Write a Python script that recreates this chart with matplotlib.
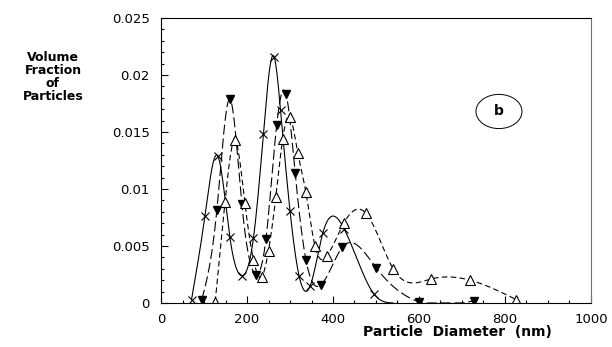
import numpy as np
import matplotlib
matplotlib.use("Agg")
import matplotlib.pyplot as plt
from matplotlib.patches import Ellipse
from matplotlib.ticker import MultipleLocator

# sample marked with x (solid line)
cross_d = [71, 102, 132, 160, 189, 215, 238, 263, 278, 300, 321, 347, 376, 426, 495, 540]
cross_v = [0.0003, 0.0076, 0.0129, 0.0058, 0.0024, 0.0057, 0.0148, 0.0216, 0.0169,
           0.0081, 0.0024, 0.0015, 0.0061, 0.0065, 0.0008, 0.0]

# sample marked with filled triangles (long dashes)
fill_d = [95, 130, 160, 188, 221, 244, 269, 291, 312, 337, 372, 422, 500, 600, 729]
fill_v = [0.0003, 0.0082, 0.0179, 0.0087, 0.0025, 0.0056, 0.0156, 0.0183, 0.0114,
          0.0038, 0.0016, 0.0049, 0.0031, 0.0001, 0.0002]

# sample marked with open triangles (short dashes)
open_d = [126, 149, 172, 195, 215, 234, 250, 267, 283, 300, 318, 337, 358, 385,
          425, 476, 540, 627, 719, 826]
open_v = [0.0001, 0.0089, 0.0143, 0.0088, 0.0038, 0.0023, 0.0046, 0.0093, 0.0144,
          0.0163, 0.0132, 0.0097, 0.0050, 0.0041, 0.0070, 0.0079, 0.0030, 0.0021,
          0.0020, 0.0003]


def smooth(x, y, num=400):
    # natural cubic spline through the points (like the original curve fit)
    x = np.asarray(x, float)
    y = np.asarray(y, float)
    n = len(x)
    h = np.diff(x)
    A = np.zeros((n, n))
    r = np.zeros(n)
    A[0, 0] = 1
    A[-1, -1] = 1
    for i in range(1, n - 1):
        A[i, i - 1] = h[i - 1]
        A[i, i] = 2 * (h[i - 1] + h[i])
        A[i, i + 1] = h[i]
        r[i] = 3 * ((y[i + 1] - y[i]) / h[i] - (y[i] - y[i - 1]) / h[i - 1])
    c = np.linalg.solve(A, r)
    b = (y[1:] - y[:-1]) / h - h * (2 * c[:-1] + c[1:]) / 3
    d = (c[1:] - c[:-1]) / (3 * h)
    xs = np.linspace(x[0], x[-1], num)
    k = np.clip(np.searchsorted(x, xs) - 1, 0, n - 2)
    t = xs - x[k]
    ys = y[k] + b[k] * t + c[k] * t ** 2 + d[k] * t ** 3
    return xs, np.clip(ys, 0, None)


fig = plt.figure(figsize=(6.12, 3.47), dpi=100)
ax = fig.add_axes([161 / 612, 1 - 303 / 347, 430 / 612, 285 / 347])

lw = 0.8
xs, ys = smooth(cross_d, cross_v)
ax.plot(xs, ys, color='black', lw=lw)
ax.plot(cross_d[:-1], cross_v[:-1], 'x', color='black', ms=6, mew=0.8)

xs, ys = smooth(fill_d, fill_v)
ax.plot(xs, ys, color='black', lw=lw, dashes=(9, 3.5))
ax.plot(fill_d, fill_v, 'v', color='black', ms=6)

xs, ys = smooth(open_d, open_v)
ax.plot(xs, ys, color='black', lw=lw, dashes=(5, 3))
ax.plot(open_d, open_v, '^', mfc='white', mec='black', ms=6.5, mew=0.8)

ax.set_xlim(0, 1000)
ax.set_ylim(0, 0.025)
ax.set_xticks([0, 200, 400, 600, 800, 1000])
ax.set_yticks([0, 0.005, 0.01, 0.015, 0.02, 0.025])
ax.set_yticklabels(['0', '0.005', '0.01', '0.015', '0.02', '0.025'])
ax.xaxis.set_minor_locator(MultipleLocator(50))
ax.yaxis.set_minor_locator(MultipleLocator(0.001))
ax.tick_params(which='both', direction='in', top=False, right=False, width=0.8)
ax.tick_params(which='major', length=5)
ax.tick_params(which='minor', length=2.5)
ax.tick_params(axis='y', pad=8, labelsize=9.5)
ax.tick_params(axis='x', pad=7, labelsize=9.5)
for s in ax.spines.values():
    s.set_linewidth(0.8)
ax.spines['right'].set_color('0.45')

# circled panel letter
ax.add_patch(Ellipse((786, 0.0168), 107, 0.0030, fill=False, lw=0.7, color='black'))
ax.text(786, 0.0168, 'b', ha='center', va='center', fontsize=10, fontweight='bold')

fig.text(457 / 612, 1 - 332 / 347, 'Particle  Diameter  (nm)', ha='center', va='center',
         fontsize=10, fontweight='bold')
fig.text(53 / 612, 1 - 77 / 347, 'Volume\nFraction\nof\nParticles', ha='center', va='center',
         fontsize=9, fontweight='bold', linespacing=1.0)

fig.savefig('out.png', dpi=100)
